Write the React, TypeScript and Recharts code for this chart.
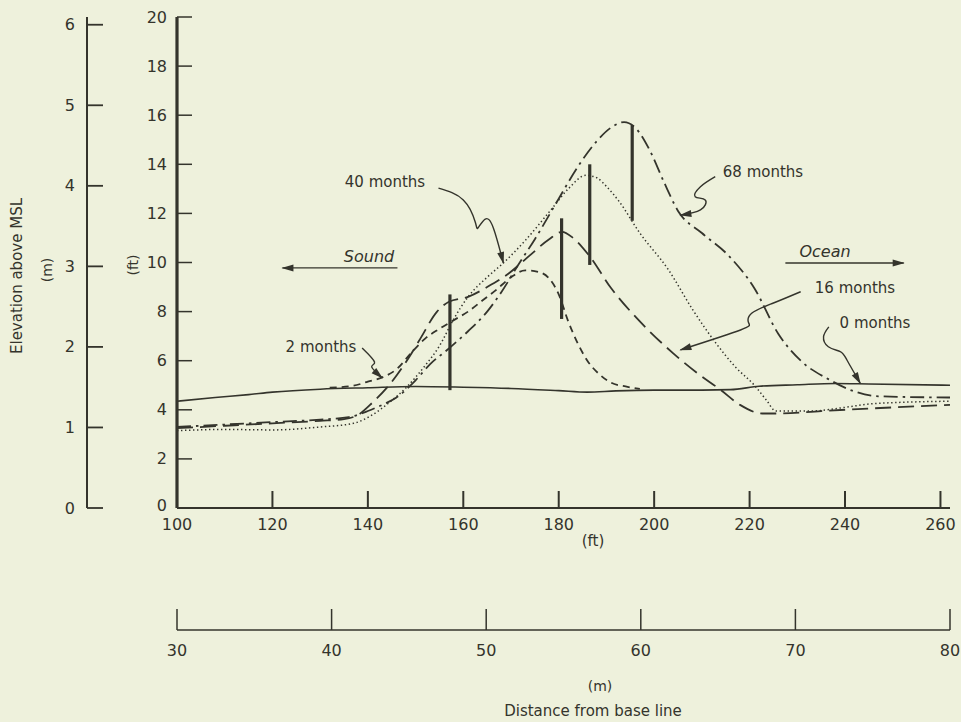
import React from 'react'
import { ComposedChart, Line, XAxis, YAxis, ReferenceLine } from 'recharts'

const INK = '#34342c'
const PAPER = '#eef1dc'
const FONT = '"DejaVu Sans", "Liberation Sans", sans-serif'

// axis ticks
const distTicksFt = [100, 120, 140, 160, 180, 200, 220, 240, 260]
const distTicksM = [30, 40, 50, 60, 70, 80]
const elevTicksFt = [0, 2, 4, 6, 8, 10, 12, 14, 16, 18, 20]
const elevTicksM = [0, 1, 2, 3, 4, 5, 6]

// profiles: [distance ft, elevation ft]
const months0 = [
  [100, 4.35], [108, 4.5], [115, 4.62], [120, 4.72], [130, 4.84], [140, 4.9], [150, 4.95],
  [160, 4.92], [170, 4.87], [180, 4.78], [186, 4.72], [192, 4.77], [200, 4.8], [210, 4.8],
  [216, 4.82], [222, 4.96], [230, 5.02], [238, 5.07], [245, 5.05], [262, 5.0],
]
const months2 = [
  [132, 4.9], [137, 4.98], [140, 5.15], [143, 5.32], [146, 5.65], [149, 6.3], [152, 6.9],
  [155, 7.3], [158, 7.65], [161, 8.0], [164, 8.45], [167, 8.9], [170, 9.4], [173, 9.68],
  [176, 9.6], [178, 9.35], [180, 8.7], [182, 7.6], [184, 6.7], [186, 6.0], [188.5, 5.45],
  [191, 5.1], [194, 4.95], [197, 4.85],
]
const months16 = [
  [100, 3.25], [110, 3.35], [120, 3.45], [130, 3.55], [135, 3.62], [138, 3.8], [141, 4.3],
  [144, 4.9], [148.5, 6.1], [151, 6.9], [154.5, 8.0], [157, 8.4], [161, 8.6], [165, 9.0],
  [169.5, 9.55], [174, 10.3], [178, 10.95], [180.7, 11.25], [183, 11.0], [186.3, 10.3],
  [191, 8.95], [197, 7.6], [204, 6.3], [209, 5.5], [214, 4.8], [218, 4.2], [222.7, 3.85],
  [226, 3.85], [235, 3.95], [245, 4.05], [262, 4.2],
]
const months40 = [
  [100, 3.15], [110, 3.2], [120, 3.18], [130, 3.3], [137, 3.45], [141, 3.8], [144.5, 4.3],
  [148, 4.9], [152, 5.8], [155, 6.6], [158, 7.7], [161, 8.6], [165, 9.4], [168.5, 10.0],
  [173, 10.9], [178.6, 12.2], [182, 13.0], [185.7, 13.55], [188, 13.45], [190, 13.1],
  [192.6, 12.5], [197, 11.2], [203, 9.7], [208, 8.1], [213, 6.7], [217, 5.75], [221, 5.0],
  [223.5, 4.4], [225.5, 3.95], [233, 3.95], [240, 4.1], [246, 4.25], [262, 4.35],
]
const months68 = [
  [100, 3.3], [110, 3.4], [120, 3.5], [130, 3.6], [136, 3.7], [140, 3.95], [143, 4.2],
  [146, 4.5], [150, 5.2], [153, 5.85], [157, 6.5], [161, 7.2], [165, 8.0], [168, 8.8],
  [171.5, 9.9], [175, 10.95], [180, 12.6], [184, 13.9], [188, 14.95], [191, 15.5],
  [193.7, 15.72], [196, 15.5], [199, 14.6], [202, 13.3], [205, 12.1], [210, 11.2],
  [215.5, 10.3], [221, 8.95], [226, 7.1], [231, 5.95], [236.5, 5.25], [241.5, 4.78],
  [247, 4.55], [262, 4.5],
]

// crest growth bars: [distance ft, top ft, bottom ft]
const crestBars = [
  [157.2, 8.7, 4.8],
  [180.6, 11.8, 7.7],
  [186.5, 14.0, 9.9],
  [195.4, 15.6, 11.7],
]

// annotation leaders, in data units
const arrow40 = [[154.8, 13.03], [160.0, 12.55], [162.5, 11.65], [163.1, 11.41], [164.6, 11.77], [166.3, 11.41], [168.4, 9.98]]
const arrow68 = [[212.8, 13.5], [209.7, 13.09], [208.6, 12.68], [210.7, 12.55], [209.7, 12.14], [205.5, 11.93]]
const arrow16 = [[230.7, 8.81], [225, 8.35], [220.5, 7.94], [219.8, 7.54], [218.1, 7.25], [205.5, 6.44]]
const arrow0 = [[236.6, 7.38], [235.5, 6.98], [236.5, 6.57], [239.0, 6.37], [240.4, 6.03], [243.2, 5.08]]
const arrow2 = [[138.8, 6.52], [141.4, 5.95], [140.8, 5.75], [143.0, 5.3]]
const arrowSound = [[146.2, 9.78], [122.1, 9.78]]
const arrowOcean = [[227.5, 9.98], [252.3, 9.98]]

const rows = (pts: number[][]) => pts.map(([x, y]) => ({ x, y }))
// metre scale rows, only so the metre axis has something attached
const metreRows = distTicksM.map((m) => ({ m, y: 0 }))

const FtXTick = ({ x, y, payload }: any) => (
  <g>
    {payload.value !== 100 && <line x1={x} x2={x} y1={y} y2={y - 17} stroke={INK} strokeWidth={2} />}
    <text x={x} y={y + 16} textAnchor="middle" dominantBaseline="central" fill={INK} fontSize={16} fontFamily={FONT}>
      {payload.value}
    </text>
  </g>
)

const MXTick = ({ x, y, payload }: any) => (
  <g>
    <line x1={x} x2={x} y1={y} y2={y - 21} stroke={INK} strokeWidth={1.5} />
    <text x={x} y={y + 20} textAnchor="middle" dominantBaseline="central" fill={INK} fontSize={16} fontFamily={FONT}>
      {payload.value}
    </text>
  </g>
)

const FtYTick = ({ x, y, payload }: any) => (
  <g>
    {payload.value !== 0 && <line x1={x} x2={x + 15} y1={y} y2={y} stroke={INK} strokeWidth={1.5} />}
    <text x={x - 10} y={payload.value === 0 ? y - 3 : y} textAnchor="end" dominantBaseline="central" fill={INK} fontSize={16} fontFamily={FONT}>
      {payload.value}
    </text>
  </g>
)

const MYTick = ({ x, y, payload }: any) => (
  <g>
    <line x1={x} x2={x + 16} y1={y} y2={y} stroke={INK} strokeWidth={1.8} />
    <text x={x - 12} y={y} textAnchor="end" dominantBaseline="central" fill={INK} fontSize={16} fontFamily={FONT}>
      {payload.value}
    </text>
  </g>
)

const profileLine = (pts: number[][], dash: string | undefined, key: string, width = 1.6) => (
  <Line
    key={key}
    data={rows(pts)}
    dataKey="y"
    type="monotone"
    stroke={INK}
    strokeWidth={width}
    strokeDasharray={dash}
    dot={false}
    activeDot={false}
    isAnimationActive={false}
  />
)

const leader = (pts: number[][], key: string, curve: any = 'natural') => (
  <Line
    key={key}
    data={rows(pts)}
    dataKey="y"
    type={curve}
    stroke={INK}
    strokeWidth={1.4}
    dot={false}
    activeDot={false}
    markerEnd="url(#arrowHead)"
    isAnimationActive={false}
  />
)

const txt = { fill: INK, fontFamily: FONT } as const

export default function App() {
  return (
    <div style={{ position: 'fixed', left: 0, top: 0, width: 961, height: 722, background: PAPER }}>
      <ComposedChart width={961} height={722} margin={{ top: 17, right: 11, bottom: 0, left: 0 }}>
        <defs>
          <marker id="arrowHead" viewBox="0 0 12 8" refX="11" refY="4" markerWidth="13" markerHeight="8" orient="auto" markerUnits="userSpaceOnUse">
            <path d="M0,0.5 L12,4 L0,7.5 z" fill={INK} />
          </marker>
        </defs>
        <XAxis
          dataKey="x"
          type="number"
          domain={[100, 262]}
          ticks={distTicksFt}
          interval={0}
          allowDataOverflow
          height={122}
          tickSize={0}
          tickMargin={0}
          tickLine={false}
          axisLine={{ stroke: INK, strokeWidth: 2 }}
          tick={<FtXTick />}
        />
        <XAxis
          xAxisId="m"
          dataKey="m"
          type="number"
          domain={[30, 80]}
          ticks={distTicksM}
          interval={0}
          allowDataOverflow
          height={92}
          tickSize={0}
          tickMargin={0}
          tickLine={false}
          axisLine={{ stroke: INK, strokeWidth: 1.5 }}
          tick={<MXTick />}
        />
        <YAxis
          type="number"
          domain={[0, 20]}
          ticks={elevTicksFt}
          interval={0}
          allowDataOverflow
          width={90}
          tickSize={0}
          tickMargin={0}
          tickLine={false}
          axisLine={{ stroke: INK, strokeWidth: 3.2 }}
          tick={<FtYTick />}
        />
        <YAxis
          yAxisId="m"
          type="number"
          domain={[0, 6.096]}
          ticks={elevTicksM}
          interval={0}
          allowDataOverflow
          width={87}
          tickSize={0}
          tickMargin={0}
          tickLine={false}
          axisLine={{ stroke: INK, strokeWidth: 2 }}
          tick={<MYTick />}
        />

        <Line
          xAxisId="m"
          yAxisId="m"
          data={metreRows}
          dataKey="y"
          stroke="none"
          dot={false}
          activeDot={false}
          isAnimationActive={false}
        />

        {profileLine(months0, undefined, 'm0', 1.6)}
        {profileLine(months2, '7 5', 'm2', 1.8)}
        {profileLine(months16, '16 7', 'm16', 1.8)}
        {profileLine(months40, '1.4 2.6', 'm40', 1.5)}
        {profileLine(months68, '14 5 2.5 5', 'm68', 1.8)}

        {crestBars.map(([x, top, bottom], i) => (
          <ReferenceLine
            key={'bar' + i}
            segment={[{ x, y: top }, { x, y: bottom }]}
            stroke={INK}
            strokeWidth={3.2}
          />
        ))}

        {leader(arrow40, 'a40')}
        {leader(arrow68, 'a68')}
        {leader(arrow16, 'a16')}
        {leader(arrow0, 'a0')}
        {leader(arrow2, 'a2')}
        {leader(arrowSound, 'as', 'linear')}
        {leader(arrowOcean, 'ao', 'linear')}
      </ComposedChart>

      <svg width={961} height={722} style={{ position: 'absolute', left: 0, top: 0, pointerEvents: 'none' }}>
        <text {...txt} x={17} y={276} fontSize={15} textAnchor="middle" dominantBaseline="central" transform="rotate(-90 17 276)">
          Elevation above MSL
        </text>
        <text {...txt} x={47} y={270} fontSize={14} textAnchor="middle" dominantBaseline="central" transform="rotate(-90 47 270)">
          (m)
        </text>
        <text {...txt} x={133} y={265} fontSize={14} textAnchor="middle" dominantBaseline="central" transform="rotate(-90 133 265)">
          (ft)
        </text>
        <text {...txt} x={593} y={541} fontSize={15} textAnchor="middle" dominantBaseline="central">(ft)</text>
        <text {...txt} x={600} y={686} fontSize={14} textAnchor="middle" dominantBaseline="central">(m)</text>
        <text {...txt} x={593} y={711} fontSize={15} textAnchor="middle" dominantBaseline="central">Distance from base line</text>

        <text {...txt} x={369} y={256} fontSize={16} fontStyle="italic" textAnchor="middle" dominantBaseline="central">Sound</text>
        <text {...txt} x={825} y={251} fontSize={16} fontStyle="italic" textAnchor="middle" dominantBaseline="central">Ocean</text>
        <text {...txt} x={321} y={347} fontSize={15} textAnchor="middle" dominantBaseline="central">2 months</text>
        <text {...txt} x={385} y={182} fontSize={15} textAnchor="middle" dominantBaseline="central">40 months</text>
        <text {...txt} x={763} y={172} fontSize={15} textAnchor="middle" dominantBaseline="central">68 months</text>
        <text {...txt} x={855} y={288} fontSize={15} textAnchor="middle" dominantBaseline="central">16 months</text>
        <text {...txt} x={875} y={323} fontSize={15} textAnchor="middle" dominantBaseline="central">0 months</text>
      </svg>
    </div>
  )
}
